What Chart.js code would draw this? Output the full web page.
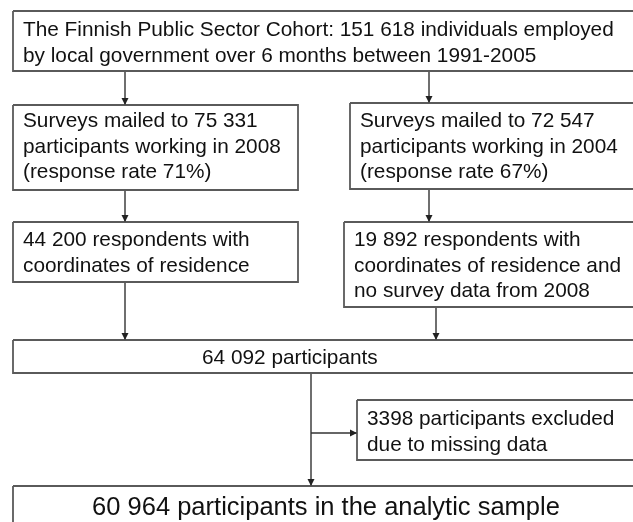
<!DOCTYPE html>
<html>
<head>
<meta charset="utf-8">
<script src="https://cdn.jsdelivr.net/npm/chart.js@4"></script>
<style>
  body { margin: 0; background: #ffffff; }
  canvas { display: block; }
</style>
</head>
<body>
<canvas id="flow" width="633" height="522"></canvas>
<script>
// cohort numbers from the flow chart
const cohortN = 151618;
const mailedN = [75331, 72547];
const surveyYears = [2008, 2004];
const responseRates = [71, 67];
const respondentsN = [44200, 19892];
const pooledN = 64092;
const excludedN = 3398;
const analyticN = 60964;

// 151618 -> "151 618"
function fmt(n) {
  return String(n).replace(/\B(?=(\d{3})+(?!\d))/g, " ");
}

const boxTexts = [
  ["The Finnish Public Sector Cohort: " + fmt(cohortN) + " individuals employed",
   "by local government over 6 months between 1991-2005"],
  ["Surveys mailed to " + fmt(mailedN[0]),
   "participants working in " + surveyYears[0],
   "(response rate " + responseRates[0] + "%)"],
  ["Surveys mailed to " + fmt(mailedN[1]),
   "participants working in " + surveyYears[1],
   "(response rate " + responseRates[1] + "%)"],
  [fmt(respondentsN[0]) + " respondents with",
   "coordinates of residence"],
  [fmt(respondentsN[1]) + " respondents with",
   "coordinates of residence and",
   "no survey data from " + surveyYears[0]],
  [fmt(pooledN) + " participants"],
  [excludedN + " participants excluded",
   "due to missing data"],
  [fmt(analyticN) + " participants in the analytic sample"]
];

// layout: [left, top, right, bottom], text x, first baseline, line step
const boxRects = [
  [13, 11, 640, 71], [13, 105, 298, 190], [350, 103, 640, 189],
  [13, 222, 298, 282], [344, 222, 640, 307], [13, 340, 640, 373],
  [357, 400, 640, 460], [13, 486, 640, 545]
];
const textX = [23, 23, 360, 23, 354, 202, 367, 326];
const textY = [36, 127, 127, 246, 246, 364, 425, 515];
const lineStep = 25.5;

// connectors [x0, y0, x1, y1]
const links = [
  [125, 71, 125, 105], [429, 71, 429, 103],
  [125, 190, 125, 222], [429, 189, 429, 222],
  [125, 282, 125, 340], [436, 307, 436, 340],
  [311, 373, 311, 486], [311, 433, 357, 433]
];

const datasets = [];
boxRects.forEach(r => {
  datasets.push({
    data: [{x: r[0], y: r[1]}, {x: r[2], y: r[1]}, {x: r[2], y: r[3]}, {x: r[0], y: r[3]}, {x: r[0], y: r[1]}],
    showLine: true, borderColor: "#5a5a5a", borderWidth: 1.8, pointRadius: 0, fill: false, tension: 0
  });
});
links.forEach(l => {
  datasets.push({
    data: [{x: l[0], y: l[1]}, {x: l[2], y: l[3]}],
    showLine: true, borderColor: "#333333", borderWidth: 1.4, pointRadius: 0, fill: false, arrow: true
  });
});

const flowPlugin = {
  id: "flowPlugin",
  afterDatasetsDraw(chart) {
    const ctx = chart.ctx;
    const xs = chart.scales.x, ys = chart.scales.y;
    ctx.save();
    // arrow heads
    chart.data.datasets.forEach(ds => {
      if (!ds.arrow) return;
      const p0 = ds.data[0], p1 = ds.data[1];
      const x0 = xs.getPixelForValue(p0.x), y0 = ys.getPixelForValue(p0.y);
      const x1 = xs.getPixelForValue(p1.x), y1 = ys.getPixelForValue(p1.y);
      const a = Math.atan2(y1 - y0, x1 - x0);
      ctx.fillStyle = "#222222";
      ctx.beginPath();
      ctx.moveTo(x1, y1);
      ctx.lineTo(x1 - 7 * Math.cos(a) + 3.5 * Math.sin(a), y1 - 7 * Math.sin(a) - 3.5 * Math.cos(a));
      ctx.lineTo(x1 - 7 * Math.cos(a) - 3.5 * Math.sin(a), y1 - 7 * Math.sin(a) + 3.5 * Math.cos(a));
      ctx.closePath();
      ctx.fill();
    });
    // texts
    ctx.fillStyle = "#111111";
    ctx.textBaseline = "alphabetic";
    boxTexts.forEach((lines, i) => {
      const big = i === boxTexts.length - 1;
      ctx.font = (big ? "25.5px" : "20.8px") + ' "Liberation Sans", Arial, sans-serif';
      ctx.textAlign = big ? "center" : "left";
      lines.forEach((t, j) => {
        ctx.fillText(t, xs.getPixelForValue(textX[i]), ys.getPixelForValue(textY[i] + j * lineStep));
      });
    });
    ctx.restore();
  }
};

new Chart(document.getElementById("flow"), {
  type: "scatter",
  data: { datasets: datasets },
  options: {
    responsive: false,
    animation: false,
    layout: { padding: 0 },
    plugins: { legend: { display: false }, tooltip: { enabled: false } },
    scales: {
      x: { type: "linear", min: 0, max: 633, display: false },
      y: { type: "linear", min: 0, max: 522, reverse: true, display: false }
    }
  },
  plugins: [flowPlugin]
});
</script>
</body>
</html>
